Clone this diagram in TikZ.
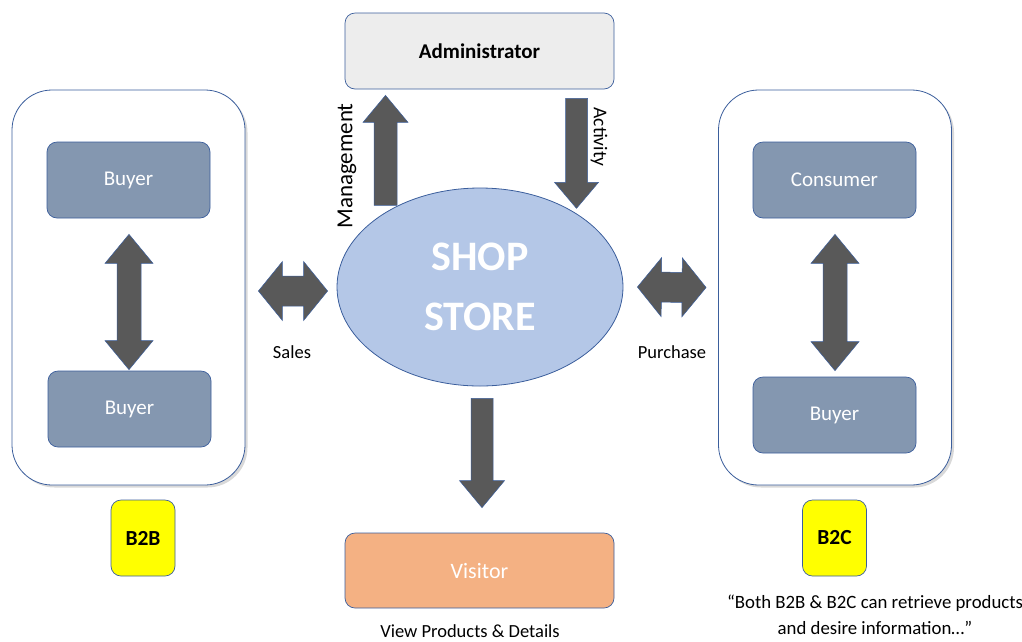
\documentclass[tikz,border=0pt]{standalone}
\usepackage{fontspec}
\setmainfont{Carlito}
\usetikzlibrary{shapes.geometric,calc,shadows}

\definecolor{edgeblue}{HTML}{3B5E9C}
\definecolor{adminfill}{HTML}{EDEDED}
\definecolor{storefill}{HTML}{B4C7E7}
\definecolor{rolefill}{HTML}{8497B0}
\definecolor{visitfill}{HTML}{F4B183}
\definecolor{arrowfill}{HTML}{595959}
\definecolor{tagfill}{HTML}{FFFF00}

\tikzset{
  box/.style={draw=edgeblue, line width=0.7pt, rounded corners=10pt, inner sep=0pt},
  rolebox/.style={box, fill=rolefill, minimum width=163pt, minimum height=76pt,
    text=white, font=\fontsize{21}{24}\selectfont},
  group/.style={draw=edgeblue, line width=0.8pt, fill=white, rounded corners=40pt,
    minimum width=233pt, minimum height=395pt, inner sep=0pt,
    drop shadow={shadow xshift=2.5pt, shadow yshift=-2.5pt, opacity=0.3}},
  tag/.style={box, fill=tagfill, minimum width=64pt, minimum height=76pt,
    font=\fontsize{21.5}{24}\selectfont\bfseries},
  lbl/.style={font=\fontsize{18.5}{22}\selectfont, inner sep=0pt},
  blk/.style={fill=arrowfill, draw=edgeblue, line width=0.5pt, line join=miter},
}

% single block arrow: #1 tail, #2 tip, #3 half shaft width, #4 half head width, #5 head length
\newcommand\blockarrow[5]{%
  \coordinate (ba-c) at ($(#2)!#5!(#1)$);
  \filldraw[blk] ($(#1)!#3!90:(#2)$) -- ($(ba-c)!#3!90:(#2)$) -- ($(ba-c)!#4!90:(#2)$)
    -- (#2) -- ($(ba-c)!#4!-90:(#2)$) -- ($(ba-c)!#3!-90:(#2)$)
    -- ($(#1)!#3!-90:(#2)$) -- cycle;
}
% double-headed block arrow between #1 and #2
\newcommand\dblarrow[5]{%
  \coordinate (da-a) at ($(#1)!#5!(#2)$);
  \coordinate (da-b) at ($(#2)!#5!(#1)$);
  \filldraw[blk] (#1) -- ($(da-a)!#4!90:(#2)$) -- ($(da-a)!#3!90:(#2)$)
    -- ($(da-b)!#3!90:(#2)$) -- ($(da-b)!#4!90:(#2)$) -- (#2)
    -- ($(da-b)!#4!-90:(#2)$) -- ($(da-b)!#3!-90:(#2)$)
    -- ($(da-a)!#3!-90:(#2)$) -- ($(da-a)!#4!-90:(#2)$) -- cycle;
}

\begin{document}
\begin{tikzpicture}[x=1pt, y=-1pt]
  \useasboundingbox (0,0) rectangle (1022,641);

  % containers
  \node[group] (lc) at (128.5,287.5) {};
  \node[group] (rc) at (835,287.5) {};

  % administrator and shop
  \node[box, fill=adminfill, minimum width=269pt, minimum height=76pt,
        font=\fontsize{21}{24}\selectfont\bfseries] (admin) at (479.5,51) {Administrator};
  \node[ellipse, draw=edgeblue, line width=0.8pt, fill=storefill,
        minimum width=286pt, minimum height=198pt, inner sep=0pt, align=center,
        text=white, font=\fontsize{42}{60}\selectfont\bfseries] (store) at (480,287) {SHOP\\STORE};
  \node[box, fill=visitfill, minimum width=269pt, minimum height=75pt,
        text=white, font=\fontsize{22}{25}\selectfont] (visitor) at (479.5,570.5) {Visitor};

  % B2B side
  \node[rolebox] (b1) at (128.5,180) {Buyer};
  \node[rolebox] (b2) at (129.5,409) {Buyer};
  % B2C side
  \node[rolebox] (c1) at (834.5,180) {Consumer};
  \node[rolebox] (c2) at (834.5,415) {Buyer};

  % tags
  \node[tag] (b2b) at (143,538) {B2B};
  \node[tag] (b2c) at (834.5,538) {B2C};

  % arrow end points
  \coordinate (mgA) at ($(admin.south)+(-94,116)$);
  \coordinate (mgB) at ($(admin.south)+(-94,6)$);
  \coordinate (acA) at ($(admin.south)+(97,9)$);
  \coordinate (acB) at ($(admin.south)+(97,119)$);
  \coordinate (lvA) at ($(b1.south)+(0.5,16)$);
  \coordinate (lvB) at ($(b2.north)+(-0.5,-1)$);
  \coordinate (rvA) at ($(c1.south)+(0.5,16)$);
  \coordinate (rvB) at ($(c2.north)+(0.5,-6)$);
  \coordinate (saA) at ($(lc.east)+(13,3.5)$);
  \coordinate (saB) at ($(store.west)+(-9,4)$);
  \coordinate (puA) at ($(store.east)+(14,0)$);
  \coordinate (puB) at ($(rc.west)+(-12,0)$);
  \coordinate (viA) at ($(store.south)+(2,12)$);
  \coordinate (viB) at ($(visitor.north)+(2.5,-25)$);

  % connectors
  \blockarrow{mgA}{mgB}{11.5pt}{22.5pt}{27pt}
  \blockarrow{acA}{acB}{11pt}{22pt}{26pt}
  \blockarrow{viA}{viB}{11pt}{22.5pt}{27pt}
  \dblarrow{lvA}{lvB}{12pt}{24pt}{29pt}
  \dblarrow{rvA}{rvB}{12pt}{24pt}{29pt}
  \dblarrow{saA}{saB}{15pt}{29.5pt}{24pt}
  \dblarrow{puA}{puB}{15pt}{29.5pt}{24pt}

  % labels
  \node[lbl, rotate=90, font=\fontsize{23}{26}\selectfont] (mglbl) at (347,166) {Management};
  \node[lbl, rotate=-90, font=\fontsize{19.5}{22}\selectfont] (aclbl) at (599,137) {Activity};
  \node[lbl] (salbl) at (292,352) {Sales};
  \node[lbl] (pulbl) at (672,352) {Purchase};
  \node[lbl] (vilbl) at (470,631) {View Products \& Details};
  \node[lbl, align=center, font=\fontsize{18.8}{26}\selectfont] (quote) at (875,615)
    {“Both B2B \& B2C can retrieve products\\and desire information…”};
\end{tikzpicture}
\end{document}
